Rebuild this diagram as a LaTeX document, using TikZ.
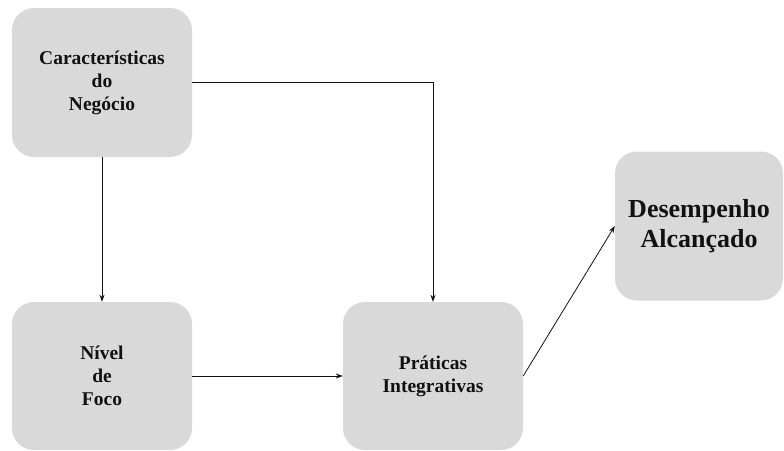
\documentclass[tikz,border=0pt]{standalone}
\usepackage{fontspec}
\setmainfont{Liberation Serif}
\usetikzlibrary{arrows.meta}
\definecolor{boxgray}{HTML}{D9D9D9}
\definecolor{ink}{HTML}{111111}
\begin{document}
\begin{tikzpicture}[x=1pt,y=-1pt,
  box/.style={rectangle, rounded corners=22pt, fill=boxgray, draw=none,
    minimum width=180pt, minimum height=149pt, align=center, text=ink,
    font=\fontsize{19.5}{23}\selectfont\bfseries, inner sep=0pt},
  bigbox/.style={box, minimum width=168pt,
    font=\fontsize{26}{30}\selectfont\bfseries},
  link/.style={draw=ink, line width=0.8pt, -{Stealth[length=7pt,width=5pt]}}]
\useasboundingbox (0,0) rectangle (784,450);
\node[box] (neg) at (102,82.5) {Características\\do\\Negócio};
\node[box, minimum height=148pt] (foco) at (102,376) {Nível\\de\\Foco};
\node[box, minimum height=148pt] (prat) at (433,376) {Práticas\\Integrativas};
\node[bigbox] (des) at (699,226) {Desempenho\\Alcançado};
\draw[link] (neg.south) -- (foco.north);
\draw[link] (neg.east) -| (prat.north);
\draw[link] (foco.east) -- (prat.west);
\draw[link] (prat.east) -- (des.west);
\end{tikzpicture}
\end{document}
